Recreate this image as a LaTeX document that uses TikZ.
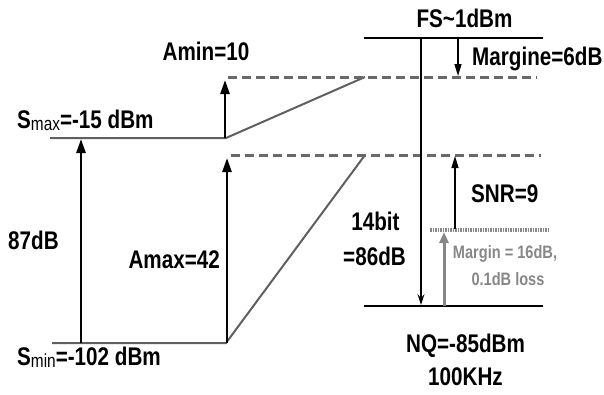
\documentclass[tikz,border=0pt]{standalone}
\usepackage{fontspec}
\setmainfont{Liberation Sans}[FakeStretch=0.81]
\usetikzlibrary{arrows.meta}
\definecolor{lvlgray}{RGB}{95,95,95}
\definecolor{dashgray}{RGB}{105,105,105}
\definecolor{mgray}{RGB}{135,135,135}
\begin{document}
\begin{tikzpicture}[x=1pt,y=-1pt,
  txt/.style={font=\bfseries\fontsize{25.5}{28}\selectfont, inner sep=0pt},
  smalltxt/.style={font=\bfseries\fontsize{18}{20}\selectfont, inner sep=0pt, text=mgray},
  lvl/.style={line width=2pt, draw=lvlgray},
  dashlvl/.style={line width=3pt, draw=dashgray, dash pattern=on 9pt off 5pt},
  blkline/.style={line width=2pt, draw=black},
  bigarrow/.style={line width=2.5pt, -{Triangle[length=14pt,width=9pt]}},
  thinarrow/.style={line width=1.3pt, -{Triangle[length=12pt,width=7pt]}},
  longarrow/.style={line width=1.3pt, -{Stealth[length=11pt,width=7pt,inset=4pt]}},
  grayarrow/.style={line width=3pt, draw=mgray, -{Triangle[length=11pt,width=9pt]}},
  dotlvl/.style={line width=4.5pt, draw=mgray, dash pattern=on 1.5pt off 1pt}]
\useasboundingbox (0,0) rectangle (604,394);
% level coordinates
\coordinate (smaxL) at (50,138);
\coordinate (smaxR) at (226,138);
\coordinate (sminL) at (52,343);
\coordinate (sminR) at (226,343);
\coordinate (upL) at (228,77);
\coordinate (upK) at (365,77);
\coordinate (upR) at (537,77);
\coordinate (loL) at (231,155);
\coordinate (loK) at (365,155);
\coordinate (loR) at (541,155);
\coordinate (fsL) at (364,38);
\coordinate (fsR) at (543,38);
\coordinate (nqL) at (364,306);
\coordinate (nqR) at (543,306);
\coordinate (mgL) at (430,230);
\coordinate (mgR) at (548,230);
% arrow end points
\coordinate (a87b) at (81,343);
\coordinate (a87t) at (81,139);
\coordinate (aminb) at (225,138);
\coordinate (amint) at (225,80);
\coordinate (amaxb) at (227,343);
\coordinate (amaxt) at (227,158);
\coordinate (longt) at (421,38);
\coordinate (longb) at (421,305);
\coordinate (margt) at (458,38);
\coordinate (margb) at (458,76);
\coordinate (snrb) at (455,229);
\coordinate (snrt) at (455,156);
\coordinate (grb) at (444,306);
\coordinate (grt) at (444,232);
% levels
\draw[lvl] (smaxL) -- (smaxR) -- (upK);
\draw[lvl] (sminL) -- (sminR) -- (loK);
\draw[dashlvl] (upL) -- (upR);
\draw[dashlvl] (loL) -- (loR);
\draw[blkline] (fsL) -- (fsR);
\draw[blkline] (nqL) -- (nqR);
\draw[dotlvl] (mgL) -- (mgR);
% arrows
\draw[bigarrow] (a87b) -- (a87t);
\draw[bigarrow] (aminb) -- (amint);
\draw[bigarrow] (amaxb) -- (amaxt);
\draw[longarrow] (longt) -- (longb);
\draw[thinarrow] (margt) -- (margb);
\draw[thinarrow] (snrb) -- (snrt);
\draw[grayarrow] (grb) -- (grt);
% labels
\node[txt, anchor=base] (amin) at (206,60) {Amin=10};
\node[txt, anchor=base west] (smax) at (17,128) {S{\mdseries\fontsize{19}{21}\selectfont\raisebox{-2.5pt}{max}}=-15 dBm};
\node[txt, anchor=base west] (smin) at (17,365) {S{\mdseries\fontsize{19}{21}\selectfont\raisebox{-2.5pt}{min}}=-102 dBm};
\node[txt, anchor=base west] (db87) at (8,249) {87dB};
\node[txt, anchor=base east] (amax) at (220,268) {Amax=42};
\node[txt, anchor=base] (fs) at (464.5,27) {FS\char"007E 1dBm};
\node[txt, anchor=base west] (marg) at (472,65) {Margine=6dB};
\node[txt, anchor=base west] (snr) at (471,202) {SNR=9};
\node[txt, anchor=base] (bit14) at (375.5,230) {14bit};
\node[txt, anchor=base] (db86) at (374.5,265) {=86dB};
\node[smalltxt, anchor=base] (mg16) at (505,258) {Margin = 16dB,};
\node[smalltxt, anchor=base] (loss) at (508,285) {0.1dB loss};
\node[txt, anchor=base] (nq) at (465.5,352) {NQ=-85dBm};
\node[txt, anchor=base] (khz) at (465.5,385) {100KHz};
\end{tikzpicture}
\end{document}
